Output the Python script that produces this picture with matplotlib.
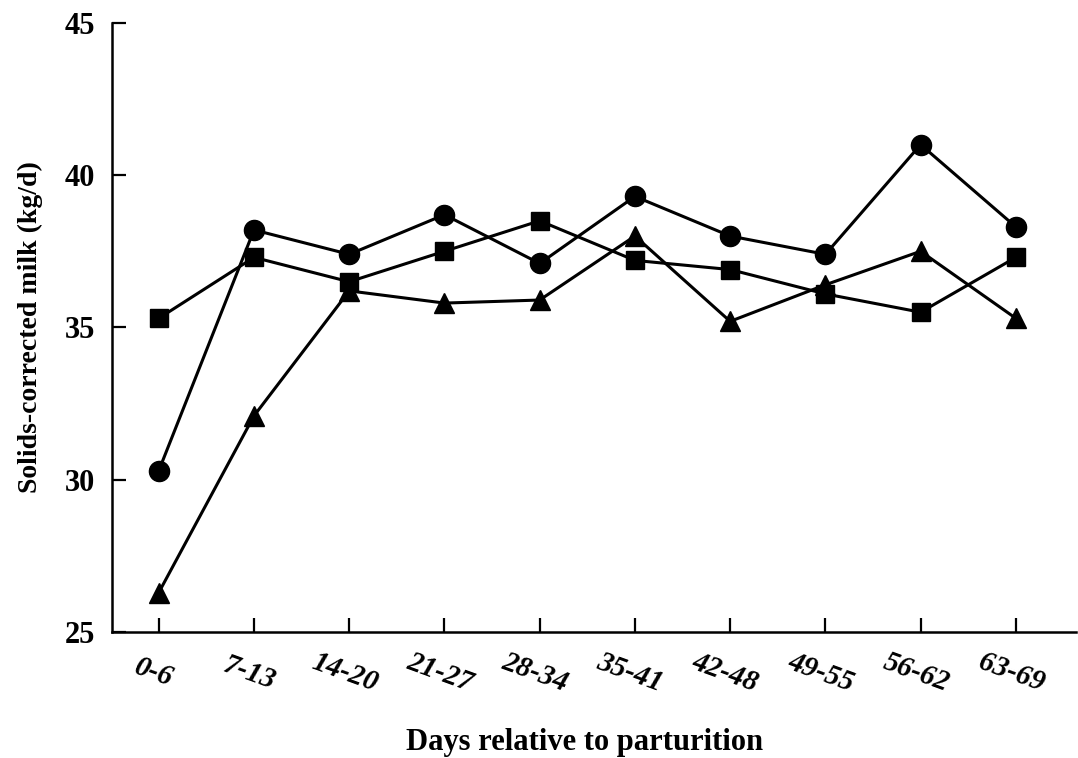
import matplotlib
matplotlib.use("Agg")
import matplotlib.pyplot as plt

# weekly means, solids-corrected milk (kg/d)
weeks = ["0-6", "7-13", "14-20", "21-27", "28-34",
         "35-41", "42-48", "49-55", "56-62", "63-69"]
circle_vals = [30.3, 38.2, 37.4, 38.7, 37.1, 39.3, 38.0, 37.4, 41.0, 38.3]
square_vals = [35.3, 37.3, 36.5, 37.5, 38.5, 37.2, 36.9, 36.1, 35.5, 37.3]
triangle_vals = [26.3, 32.1, 36.2, 35.8, 35.9, 38.0, 35.2, 36.4, 37.5, 35.3]
y_ticks = [25, 30, 35, 40, 45]

plt.rcParams['font.family'] = ['Liberation Serif', 'DejaVu Serif']

fig = plt.figure(figsize=(10.78, 7.58), dpi=100)
ax = fig.add_axes([0.104, 0.166, 0.894, 0.804])

x = list(range(len(weeks)))
style = dict(color='black', linewidth=2.2)
ax.plot(x, square_vals, marker='s', markersize=13, **style)
ax.plot(x, triangle_vals, marker='^', markersize=15, **style)
ax.plot(x, circle_vals, marker='o', markersize=14.5, **style)

ax.set_xlim(-0.49, 9.63)
ax.set_ylim(25, 45)
ax.set_yticks(y_ticks)
ax.set_yticklabels([str(v) for v in y_ticks], fontsize=22, fontweight='bold')
ax.set_xticks(x)
ax.set_xticklabels(weeks, fontsize=21, fontweight='bold', style='italic',
                   rotation=-20, rotation_mode='anchor', ha='center', va='top')

ax.tick_params(direction='in', length=10, width=1.6)
ax.tick_params(axis='y', pad=12)
ax.tick_params(axis='x', pad=20)
for side in ['top', 'right']:
    ax.spines[side].set_visible(False)
for side in ['left', 'bottom']:
    ax.spines[side].set_linewidth(1.8)

ax.set_ylabel('Solids-corrected milk (kg/d)', fontsize=20, fontweight='bold')
ax.yaxis.set_label_coords(-0.072, 0.5)
ax.set_xlabel('Days relative to parturition', fontsize=22, fontweight='bold')
ax.xaxis.set_label_coords(0.49, -0.157)

fig.savefig('out.png', dpi=100)
